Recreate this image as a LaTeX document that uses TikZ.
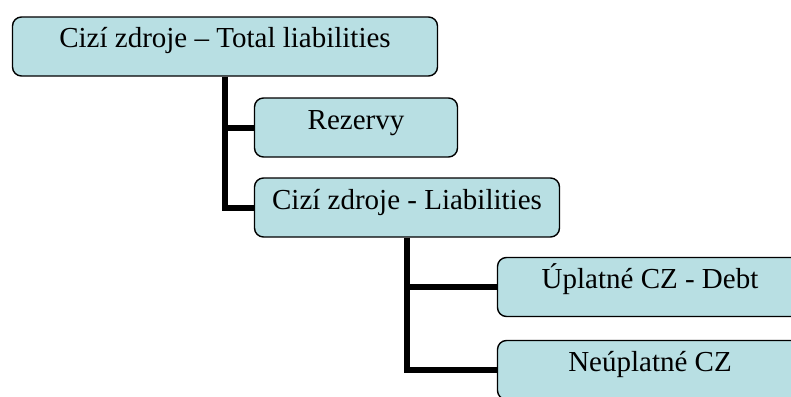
\documentclass[tikz,border=0pt]{standalone}
\usepackage{fontspec}
\setmainfont{Liberation Serif}
\definecolor{boxfill}{RGB}{184,223,227}

\begin{document}
\begin{tikzpicture}[x=1pt, y=-1pt,
    item/.style={rectangle, rounded corners=9pt, draw=black, line width=1.4pt, fill=boxfill,
      inner sep=0pt, text height=31pt, text depth=28pt, font=\fontsize{29}{34}\selectfont},
    link/.style={line width=6pt, line join=miter}]
      \useasboundingbox (0,0) rectangle (791,396);
      \clip (0,0) rectangle (791,396);

      \node[item, minimum width=425pt] (total) at (225,46.5) {Cizí zdroje – Total liabilities};
      \node[item, minimum width=203pt] (rez) at (356,127.5) {Rezervy};
      \node[item, minimum width=305pt] (liab) at (407,207.5) {Cizí zdroje - Liabilities};
      \node[item, minimum width=305pt] (debt) at (650,287) {Úplatné CZ - Debt};
      \node[item, minimum width=305pt] (nonp) at (650,370) {Neúplatné CZ};

      % tree links
      \draw[link] (total.south) |- (rez.west);
      \draw[link] (total.south) |- (liab.west);
      \draw[link] (liab.south) |- (debt.west);
      \draw[link] (liab.south) |- (nonp.west);
    \end{tikzpicture}
\end{document}
